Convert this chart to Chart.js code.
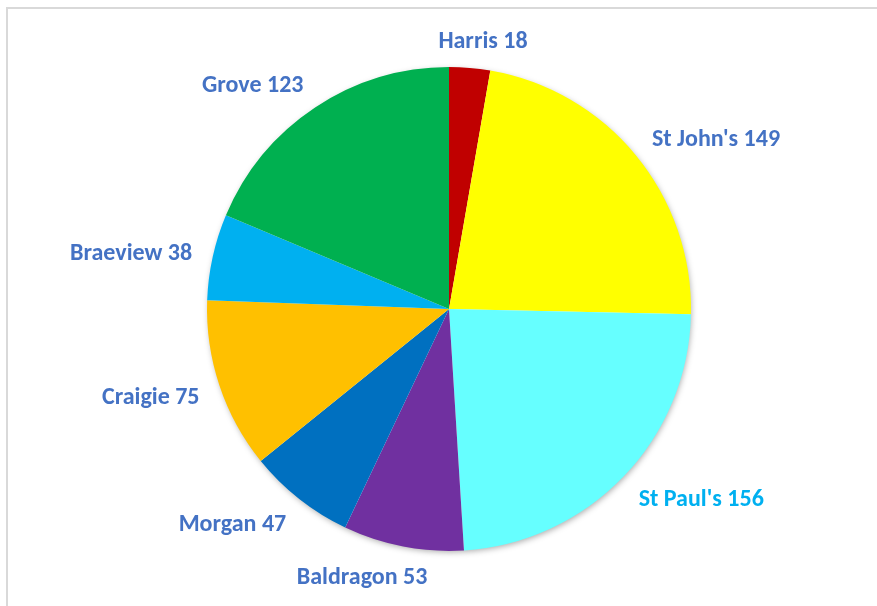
<!DOCTYPE html>
<html>
<head>
<meta charset="utf-8">
<script src="https://cdn.jsdelivr.net/npm/chart.js@4/dist/chart.umd.min.js"></script>
<style>
  html, body { margin: 0; padding: 0; background: #fff; overflow: hidden; }
  #frame { position: absolute; left: 6px; top: 7px; width: 2000px; height: 2000px; border: 2px solid #d9d9d9; }
  #wrap { position: absolute; left: 0; top: 0; width: 877px; height: 606px; }
</style>
</head>
<body>
<div id="frame"></div>
<div id="wrap"><canvas id="pie"></canvas></div>
<script>
const schools = ['Harris', 'St John\'s', 'St Paul\'s', 'Baldragon', 'Morgan', 'Craigie', 'Braeview', 'Grove'];
const pupils = [18, 149, 156, 53, 47, 75, 38, 123];
const sliceColours = ['#C00000', '#FFFF00', '#66FFFF', '#7030A0', '#0070C0', '#FFC000', '#00B0F0', '#00B050'];
const labelColours = ['#4472C4', '#4472C4', '#00B0F0', '#4472C4', '#4472C4', '#4472C4', '#4472C4', '#4472C4'];

// soft shadow under the whole pie
const pieShadow = {
  id: 'pieShadow',
  beforeDatasetsDraw(chart) {
    const arc = chart.getDatasetMeta(0).data[0];
    if (!arc) return;
    const ctx = chart.ctx;
    ctx.save();
    ctx.shadowColor = 'rgba(0,0,0,0.35)';
    ctx.shadowBlur = 6;
    ctx.shadowOffsetX = 1;
    ctx.shadowOffsetY = 2;
    ctx.fillStyle = '#fff';
    ctx.beginPath();
    ctx.arc(arc.x, arc.y, arc.outerRadius - 1, 0, Math.PI * 2);
    ctx.fill();
    ctx.restore();
  }
};

// outside labels, "Name value"
const outsideLabels = {
  id: 'outsideLabels',
  afterDatasetsDraw(chart) {
    const ctx = chart.ctx;
    ctx.save();
    ctx.font = 'bold 24px Carlito, Calibri, Lato, sans-serif';
    ctx.textAlign = 'center';
    ctx.textBaseline = 'middle';
    chart.getDatasetMeta(0).data.forEach((arc, i) => {
      const mid = (arc.startAngle + arc.endAngle) / 2;
      const ux = Math.cos(mid), uy = Math.sin(mid);
      const text = schools[i] + ' ' + pupils[i];
      const w = ctx.measureText(text).width, h = 16;
      const d = arc.outerRadius + 21;
      const k = Math.max(-1, Math.min(1, ux * 3));
      const x = arc.x + d * ux + k * w / 2;
      const y = arc.y + d * uy + uy * h / 2 + 3;
      ctx.fillStyle = labelColours[i];
      ctx.fillText(text, x, y);
    });
    ctx.restore();
  }
};

new Chart(document.getElementById('pie'), {
  type: 'pie',
  data: {
    labels: schools,
    datasets: [{
      data: pupils,
      backgroundColor: sliceColours,
      borderWidth: 0
    }]
  },
  options: {
    responsive: true,
    maintainAspectRatio: false,
    animation: false,
    layout: { padding: { left: 207, right: 186, top: 67, bottom: 55 } },
    plugins: {
      legend: { display: false },
      tooltip: { enabled: false }
    }
  },
  plugins: [pieShadow, outsideLabels]
});
</script>
</body>
</html>
